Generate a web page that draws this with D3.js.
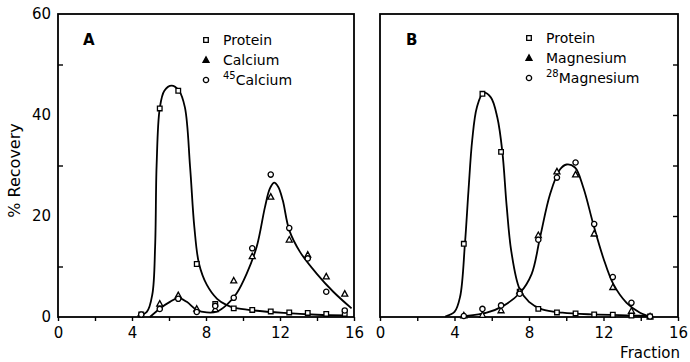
<!DOCTYPE html>
<html>
<head>
<meta charset="utf-8">
<script src="https://cdn.jsdelivr.net/npm/d3@7"></script>
<style>
  body { margin: 0; background: #fff; }
  svg { display: block; font-family: "DejaVu Sans", sans-serif; }
  .tick line { stroke: #000; stroke-width: 1.4; }
</style>
</head>
<body>
<div id="chart"></div>
<script>
  // fractions where samples were measured
  const fractionsA = [4.5, 5.5, 6.5, 7.5, 8.5, 9.5, 10.5, 11.5, 12.5, 13.5, 14.5, 15.5]
  const fractionsB = [4.5, 5.5, 6.5, 7.5, 8.5, 9.5, 10.5, 11.5, 12.5, 13.5, 14.5]

  // panel A measured points (% recovery)
  const proteinA = [0.5, 41.3, 44.8, 10.5, 2.6, 1.7, 1.4, 1.1, 0.9, 0.8, 0.6, 0.6]
  const calciumA = [null, 2.6, 4.3, 1.6, 1.5, 7.2, 12.0, 23.8, 15.3, 12.3, 8.0, 4.6]
  const ca45A = [0.5, 1.6, 3.6, 1.0, 2.2, 3.8, 13.6, 28.2, 17.6, 11.6, 5.0, 1.3]

  // panel B measured points
  const proteinB = [14.5, 44.2, 32.7, 5.0, 1.6, 0.9, 0.7, 0.5, 0.45, 0.3, 0.1]
  const magnesiumB = [0.3, 0.4, 1.3, 5.1, 16.2, 28.8, 28.2, 16.5, 5.9, 1.2, 0.1]
  const mg28B = [0.2, 1.6, 2.3, 4.6, 15.3, 27.6, 30.6, 18.4, 7.9, 2.8, 0.1]

  // hand-drawn fitted curves as [fraction, %]
  const curveProteinA = [[4.3, 0.2], [4.8, 1.0], [5.1, 4.5], [5.25, 14], [5.33, 30], [5.5, 41.3], [5.75, 44.8],
    [6.14, 45.8], [6.54, 44.8], [6.86, 41.5], [7.14, 29.7], [7.37, 17.8], [7.62, 10.6], [8.04, 6.4],
    [8.6, 3.6], [9.1, 2.4], [9.57, 1.8], [10.56, 1.3], [12.2, 0.8], [14, 0.45], [15.6, 0.3]]
  const curveCalciumA = [[4.97, 0], [5.51, 1.7], [6.05, 3.0], [6.5, 3.8], [6.96, 3.0], [7.5, 1.4], [8.04, 0.9],
    [8.58, 1.05], [9.12, 2.4], [9.66, 4.7], [10.2, 8.6], [10.74, 13.9], [11.19, 21.8], [11.45, 25.4],
    [11.68, 26.6], [11.9, 25.8], [12.15, 23.1], [12.5, 17.2], [13.08, 12.9], [13.98, 8.6], [14.88, 5.0], [15.87, 1.7]]
  const curveProteinB = [[3.5, 0.1], [4.0, 1.0], [4.3, 4], [4.56, 14.5], [4.75, 25], [4.95, 35], [5.2, 41.5],
    [5.55, 44.4], [5.95, 43.5], [6.3, 39.5], [6.57, 32.7], [6.8, 22], [7.05, 13], [7.5, 5.5], [8.0, 3],
    [8.7, 1.5], [9.8, 0.85], [11.5, 0.5], [14, 0.25], [14.6, 0.1]]
  const curveMagnesiumB = [[4.65, 0.2], [5.73, 0.85], [6.62, 2.2], [7.52, 4.8], [8.14, 8.5], [8.59, 15.7],
    [9.13, 24.3], [9.66, 29.2], [10.02, 30.2], [10.47, 29.6], [10.92, 25.6], [11.45, 18.4], [11.99, 11.7],
    [12.53, 6.5], [13.24, 2.8], [13.96, 0.85], [14.59, 0]]

  const xTicks = [0, 2, 4, 6, 8, 10, 12, 14, 16]
  const xLabels = [0, 4, 8, 12, 16]
  const yLabels = [0, 20, 40, 60]

  const width = 690
  const height = 362
  const plotTop = 14, plotBottom = 317

  const svg = d3.select('#chart').append('svg')
    .attr('width', width)
    .attr('height', height)

  const y = d3.scaleLinear().domain([0, 60]).range([plotBottom, plotTop])

  function drawPanel(opt) {
    const x = d3.scaleLinear().domain([0, 16]).range([opt.left, opt.right])
    const g = svg.append('g')

    // frame
    g.append('rect')
      .attr('x', opt.left).attr('y', plotTop)
      .attr('width', opt.right - opt.left).attr('height', plotBottom - plotTop)
      .attr('fill', 'none').attr('stroke', '#000').attr('stroke-width', 1.8)

    const xAxis = g.append('g')
      .attr('transform', `translate(0,${plotBottom})`)
      .call(d3.axisBottom(x).tickValues(xTicks).tickSize(4).tickPadding(6)
        .tickFormat(d => xLabels.includes(d) ? d : ''))
    xAxis.select('.domain').remove()
    xAxis.selectAll('text').attr('font-size', 15).attr('fill', '#000')
      .attr('font-family', '"DejaVu Sans", sans-serif')

    if (opt.yLabels) {
      const ya = g.append('g')
        .attr('transform', `translate(${opt.left},0)`)
        .call(d3.axisLeft(y).tickValues(yLabels).tickSize(0).tickPadding(7))
      ya.select('.domain').remove()
      ya.selectAll('text').attr('font-size', 15).attr('fill', '#000')
        .attr('font-family', '"DejaVu Sans", sans-serif')
    }

    const yIn = g.append('g')
      .attr('transform', `translate(${opt.tickSide === 'left' ? opt.left : opt.right},0)`)
      .call((opt.tickSide === 'left' ? d3.axisLeft(y) : d3.axisRight(y))
        .tickValues(opt.innerTicks).tickSize(-5).tickFormat(''))
    yIn.select('.domain').remove()

    const line = d3.line()
      .x(d => x(d[0])).y(d => y(d[1]))
      .curve(d3.curveCatmullRom.alpha(0.5))

    opt.curves.forEach(c => {
      g.append('path').datum(c)
        .attr('d', line)
        .attr('fill', 'none').attr('stroke', '#000').attr('stroke-width', 1.8)
    })

    opt.series.forEach(s => {
      const pts = opt.fractions.map((f, i) => [f, s.values[i]]).filter(d => d[1] != null)
      drawMarkers(g, pts.map(d => [x(d[0]), y(d[1])]), s.shape, false)
    })

    // panel letter
    g.append('text')
      .attr('x', opt.letterX).attr('y', 45)
      .attr('font-size', 15).attr('font-weight', 'bold')
      .text(opt.letter)

    // legend
    opt.series.forEach((s, i) => {
      const ly = opt.legendY + i * 20
      drawMarkers(g, [[opt.legendX, ly]], s.shape, s.shape === 'triangle')
      const t = g.append('text')
        .attr('x', opt.legendX + 17).attr('y', ly + 5)
        .attr('font-size', 14)
      if (s.sup) {
        t.append('tspan').attr('font-size', 10).attr('dy', -6).text(s.sup)
        t.append('tspan').attr('dy', 6).text(s.name)
      } else {
        t.text(s.name)
      }
    })
  }

  function drawMarkers(g, pts, shape, filled) {
    const sel = g.append('g').selectAll('path').data(pts).join('path')
      .attr('transform', d => `translate(${d[0]},${d[1]})`)
      .attr('fill', filled ? '#000' : '#fff')
      .attr('stroke', '#000').attr('stroke-width', 1.3)
    if (shape === 'square') sel.attr('d', 'M-2.3,-2.3H2.3V2.3H-2.3Z')
    else if (shape === 'triangle') sel.attr('d', 'M0,-3.2L3,2.3H-3Z')
    else sel.attr('d', d3.symbol(d3.symbolCircle, 22)())
  }

  drawPanel({
    left: 58, right: 354, letter: 'A', letterX: 83,
    fractions: fractionsA, yLabels: true, tickSide: 'left', innerTicks: [10, 30, 50],
    legendX: 206, legendY: 40,
    curves: [curveProteinA, curveCalciumA],
    series: [
      { name: 'Protein', shape: 'square', values: proteinA },
      { name: 'Calcium', shape: 'triangle', values: calciumA },
      { name: 'Calcium', sup: '45', shape: 'circle', values: ca45A }
    ]
  })

  drawPanel({
    left: 380, right: 678, letter: 'B', letterX: 406,
    fractions: fractionsB, yLabels: false, tickSide: 'right', innerTicks: [10, 20, 30, 40, 50],
    legendX: 529, legendY: 38,
    curves: [curveProteinB, curveMagnesiumB],
    series: [
      { name: 'Protein', shape: 'square', values: proteinB },
      { name: 'Magnesium', shape: 'triangle', values: magnesiumB },
      { name: 'Magnesium', sup: '28', shape: 'circle', values: mg28B }
    ]
  })

  svg.append('text')
    .attr('transform', `translate(20,${(plotTop + plotBottom) / 2 + 5}) rotate(-90)`)
    .attr('text-anchor', 'middle')
    .attr('font-size', 16)
    .text('% Recovery')

  svg.append('text')
    .attr('x', 680).attr('y', 358)
    .attr('text-anchor', 'end')
    .attr('font-size', 15)
    .text('Fraction')
</script>
</body>
</html>
